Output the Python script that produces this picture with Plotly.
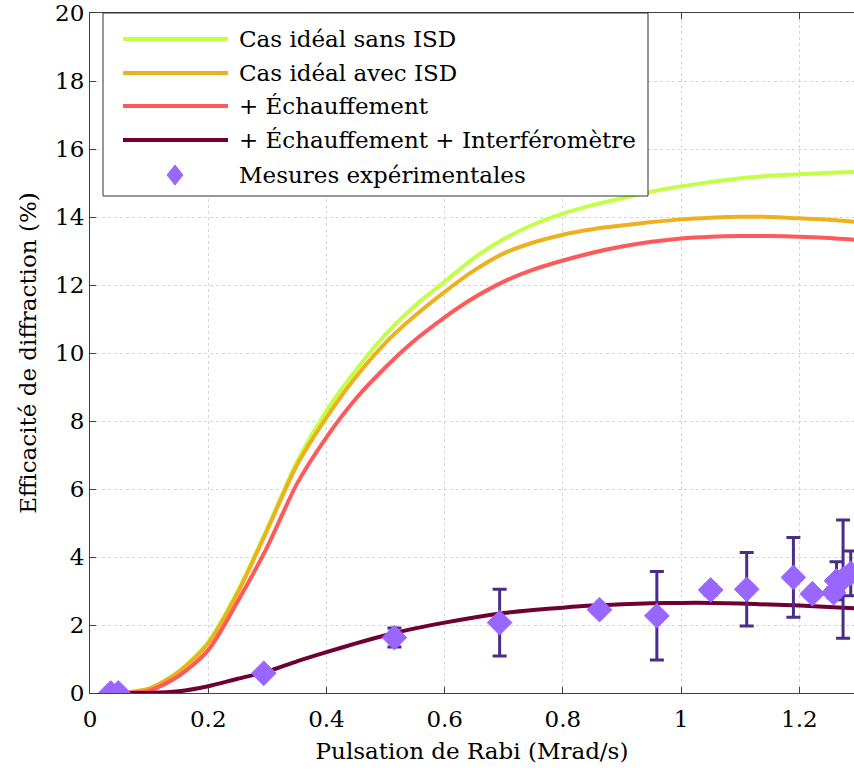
import plotly.graph_objects as go

# ---------------- data ----------------
curve_x = [0.05, 0.1, 0.15, 0.2, 0.25, 0.3, 0.35, 0.4, 0.45, 0.5, 0.55, 0.6, 0.65,
           0.7, 0.75, 0.8, 0.85, 0.9, 0.95, 1.0, 1.05, 1.1, 1.15, 1.2, 1.25, 1.3]
ideal_sans_isd = [0.0, 0.13, 0.63, 1.5, 3.0, 4.85, 6.8, 8.3, 9.5, 10.55, 11.4, 12.1,
                  12.8, 13.35, 13.78, 14.1, 14.35, 14.55, 14.75, 14.9, 15.03, 15.14,
                  15.21, 15.26, 15.3, 15.33]
ideal_avec_isd = [0.0, 0.13, 0.62, 1.46, 2.95, 4.8, 6.7, 8.1, 9.3, 10.3, 11.1, 11.8,
                  12.43, 12.93, 13.25, 13.48, 13.64, 13.75, 13.85, 13.93, 13.98, 14.01,
                  14.0, 13.96, 13.92, 13.85]
echauffement = [0.0, 0.07, 0.5, 1.26, 2.7, 4.3, 6.15, 7.52, 8.66, 9.58, 10.38, 11.05,
                11.63, 12.1, 12.45, 12.72, 12.95, 13.13, 13.27, 13.37, 13.42, 13.44,
                13.44, 13.42, 13.38, 13.32]
echauff_interf = [0.0, 0.0, 0.05, 0.2, 0.42, 0.63, 0.93, 1.2, 1.46, 1.7, 1.9, 2.07,
                  2.22, 2.35, 2.44, 2.51, 2.57, 2.61, 2.64, 2.65, 2.65, 2.63, 2.6,
                  2.57, 2.53, 2.49]

mes_x = [0.035, 0.048, 0.294, 0.515, 0.693, 0.862, 0.959, 1.05, 1.111, 1.19,
         1.222, 1.258, 1.263, 1.274, 1.287]
mes_y = [0.0, 0.0, 0.58, 1.63, 2.07, 2.45, 2.27, 3.03, 3.05, 3.40,
         2.92, 2.95, 3.3, 3.35, 3.52]
mes_err = [0.0, 0.0, 0.08, 0.28, 0.98, 0.08, 1.3, 0.15, 1.08, 1.17,
           0.12, 0.15, 0.56, 1.74, 0.66]

series_names = ["Cas idéal sans ISD", "Cas idéal avec ISD", "+ Échauffement",
                "+ Échauffement + Interféromètre", "Mesures expérimentales"]
series_colors = ["#C2FF45", "#EDB120", "#FF5A5A", "#6E0035", "#9966FF"]
err_color = "#4B2C86"

x_ticks = [0, 0.2, 0.4, 0.6, 0.8, 1.0, 1.2]
x_tick_labels = ["0", "0.2", "0.4", "0.6", "0.8", "1", "1.2"]
y_ticks = list(range(0, 21, 2))

FONT = "DejaVu Serif"
FS = 23

fig = go.Figure()
for ys, name, col in zip([ideal_sans_isd, ideal_avec_isd, echauffement, echauff_interf],
                         series_names[:4], series_colors[:4]):
    fig.add_trace(go.Scatter(x=curve_x, y=ys, mode="lines", name=name,
                             line=dict(color=col, width=4, shape="spline", smoothing=0.8),
                             showlegend=False))

fig.add_trace(go.Scatter(
    x=mes_x, y=mes_y, mode="markers", name=series_names[4],
    marker=dict(symbol="diamond", size=19, color=series_colors[4],
                line=dict(color=series_colors[4], width=1)),
    error_y=dict(type="data", array=mes_err, color=err_color, thickness=3, width=7),
    showlegend=False))

# ---------------- manual legend ----------------
L, T = 90, 13
W, H = 764, 680


def px(xp):
    return (xp - L) / W


def py(yp):
    return (T + H - yp) / H


shapes = [dict(type="rect", xref="paper", yref="paper",
               x0=px(103), x1=px(648), y0=py(196), y1=py(13),
               line=dict(color="#303030", width=1), fillcolor="white", layer="above")]
annotations = []
rows = [39, 73, 106, 140, 175]
for i, (name, col) in enumerate(zip(series_names, series_colors)):
    yy = rows[i]
    if i < 4:
        shapes.append(dict(type="line", xref="paper", yref="paper",
                           x0=px(123), x1=px(228), y0=py(yy), y1=py(yy),
                           line=dict(color=col, width=4), layer="above"))
    else:
        cx, cy, hw, hh = 175, yy, 8, 10
        path = (f"M {px(cx)},{py(cy - hh)} L {px(cx + hw)},{py(cy)} "
                f"L {px(cx)},{py(cy + hh)} L {px(cx - hw)},{py(cy)} Z")
        shapes.append(dict(type="path", xref="paper", yref="paper", path=path,
                           fillcolor=col, line=dict(color=col, width=1), layer="above"))
    annotations.append(dict(xref="paper", yref="paper", x=px(237), y=py(yy),
                            text=name, showarrow=False, xanchor="left", yanchor="middle",
                            font=dict(family=FONT, size=FS, color="black")))

axis_common = dict(
    showline=True, linecolor="#404040", linewidth=1,
    ticks="inside", ticklen=6, tickcolor="#404040",
    showgrid=True, gridcolor="#D5D5D5", griddash="dot", gridwidth=1,
    zeroline=False,
    tickfont=dict(family=FONT, size=FS, color="black"),
)

fig.update_layout(
    width=854, height=774,
    margin=dict(l=L, r=0, t=T, b=774 - T - H),
    paper_bgcolor="white", plot_bgcolor="white",
    showlegend=False,
    xaxis=dict(range=[0, 1.2925], tickvals=x_ticks, ticktext=x_tick_labels,
               mirror="ticks", ticklabelstandoff=5,
               title=dict(text="Pulsation de Rabi (Mrad/s)",
                          font=dict(family=FONT, size=FS, color="black"), standoff=12),
               **axis_common),
    yaxis=dict(range=[0, 20], tickvals=y_ticks,
               title=dict(text="Efficacité de diffraction (%)",
                          font=dict(family=FONT, size=FS, color="black"), standoff=12),
               **axis_common),
    shapes=shapes,
    annotations=annotations,
)

fig.write_html("out.html",
               config={"displayModeBar": False},
               post_script="document.body.style.margin='0';"
                           "document.body.style.overflow='hidden';")
